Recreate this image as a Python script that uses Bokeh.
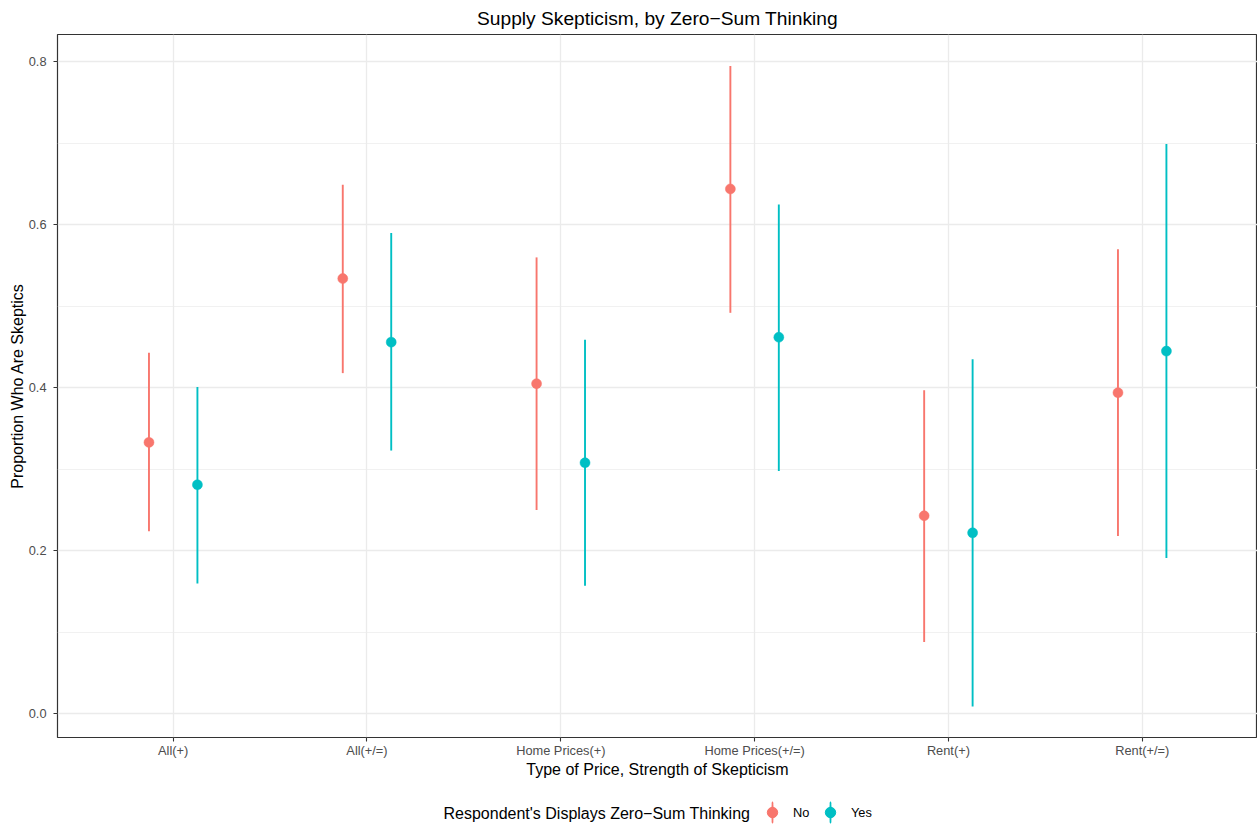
from bokeh.plotting import figure
from bokeh.layouts import column
from bokeh.models import (ColumnDataSource, Range1d, FixedTicker, NumeralTickFormatter,
                          Legend, LegendItem, Label)
from bokeh.transform import dodge
from bokeh.embed import file_html
from bokeh.resources import INLINE

# ---- data ----
categories = ["All(+)", "All(+/=)", "Home Prices(+)", "Home Prices(+/=)", "Rent(+)", "Rent(+/=)"]
groups = ["No", "Yes"]
no_est = [0.333, 0.534, 0.405, 0.644, 0.243, 0.394]
no_lo = [0.224, 0.418, 0.250, 0.492, 0.088, 0.218]
no_hi = [0.443, 0.649, 0.560, 0.795, 0.397, 0.570]
yes_est = [0.281, 0.456, 0.308, 0.462, 0.222, 0.445]
yes_lo = [0.160, 0.323, 0.157, 0.298, 0.009, 0.191]
yes_hi = [0.401, 0.590, 0.459, 0.625, 0.435, 0.699]
y_ticks = [0.0, 0.2, 0.4, 0.6, 0.8]
y_minor = [0.1, 0.3, 0.5, 0.7]
colors = ["#F8766D", "#00BFC4"]

FONT = "Liberation Sans"

p = figure(width=1257, height=790, output_backend="svg", toolbar_location=None,
           x_range=Range1d(0.403, 6.595), y_range=Range1d(-0.0291, 0.8335),
           min_border_left=57, min_border_right=0, min_border_top=34, min_border_bottom=53)
p.background_fill_color = "white"
p.border_fill_color = "white"
p.outline_line_color = "#333333"
p.outline_line_width = 1.2

p.title.text = "Supply Skepticism, by Zero\u2212Sum Thinking"
p.title.align = "center"
p.title.text_font = FONT
p.title.text_font_style = "normal"
p.title.text_font_size = "19.2px"
p.title.text_color = "black"
p.title.standoff = 11

xi = list(range(1, len(categories) + 1))

# axes
p.xaxis.ticker = FixedTicker(ticks=xi)
p.xaxis.major_label_overrides = {i: c for i, c in zip(xi, categories)}
p.yaxis.ticker = FixedTicker(ticks=y_ticks, minor_ticks=y_minor)
p.yaxis.formatter = NumeralTickFormatter(format="0.0")
p.xaxis.axis_label = "Type of Price, Strength of Skepticism"
p.yaxis.axis_label = "Proportion Who Are Skeptics"
for ax in (p.xaxis, p.yaxis):
    ax.axis_line_color = None
    ax.major_tick_line_color = "#333333"
    ax.major_tick_line_width = 1.1
    ax.major_tick_out = 4
    ax.major_tick_in = 0
    ax.minor_tick_line_color = None
    ax.major_label_text_font = FONT
    ax.major_label_text_font_size = "12.8px"
    ax.major_label_text_color = "#4D4D4D"
    ax.axis_label_text_font = FONT
    ax.axis_label_text_font_size = "16px"
    ax.axis_label_text_font_style = "normal"
    ax.axis_label_text_color = "black"
p.xaxis.major_label_standoff = 1
p.xaxis.axis_label_standoff = 0
p.yaxis.major_label_standoff = 7
p.yaxis.axis_label_standoff = 0

p.xgrid.ticker = FixedTicker(ticks=xi)
p.xgrid.grid_line_color = "#EBEBEB"
p.xgrid.grid_line_width = 1.3
p.ygrid.grid_line_color = "#EBEBEB"
p.ygrid.grid_line_width = 1.3
p.ygrid.minor_grid_line_color = "#EBEBEB"
p.ygrid.minor_grid_line_width = 0.7

series = [(no_est, no_lo, no_hi), (yes_est, yes_lo, yes_hi)]
offsets = [-0.125, 0.125]
for g, (est, lo, hi), off, col in zip(groups, series, offsets, colors):
    src = ColumnDataSource(dict(xi=xi, cat=categories, est=est, lo=lo, hi=hi))
    p.segment(x0=dodge("xi", off), y0="lo", x1=dodge("xi", off), y1="hi", source=src,
              line_color=col, line_width=1.9)
    p.scatter(x=dodge("xi", off), y="est", source=src, size=10,
              fill_color=col, line_color=col, line_width=0.5)

# ---- legend strip below ----
leg = figure(width=1257, height=35, output_backend="svg", toolbar_location=None,
             x_range=Range1d(0, 1), y_range=Range1d(0, 1),
             x_axis_location=None, y_axis_location=None,
             min_border_left=0, min_border_right=0, min_border_top=0, min_border_bottom=0)
leg.grid.visible = False
leg.outline_line_color = None
leg.background_fill_color = "white"
leg.border_fill_color = "white"

nan = float("nan")
items = []
for g, col in zip(groups, colors):
    # thin upright ellipse -> vertical key line (pointrange key)
    key_line = leg.ellipse(x=[nan], y=[nan], width=1, height=60,
                           width_units="screen", height_units="screen",
                           fill_color=col, line_color=col, line_width=1.9)
    key_pt = leg.scatter(x=[nan], y=[nan], size=10, fill_color=col, line_color=col)
    items.append(LegendItem(label=g, renderers=[key_line, key_pt]))

legend = Legend(items=items, orientation="horizontal", location=(702, 0),
                glyph_width=26, glyph_height=26, label_standoff=8, spacing=4,
                padding=0, margin=0, border_line_color=None, background_fill_alpha=0,
                label_text_font=FONT, label_text_font_size="12.8px", label_text_color="black",
                label_height=26)
leg.add_layout(legend, "center")
leg.add_layout(Label(x=386, y=12, x_units="screen", y_units="screen",
                     text="Respondent's Displays Zero\u2212Sum Thinking", text_baseline="middle",
                     text_font=FONT, text_font_size="16px", text_color="black"))

layout = column(p, leg, spacing=0)
open("out.html", "w").write(file_html(layout, INLINE))
